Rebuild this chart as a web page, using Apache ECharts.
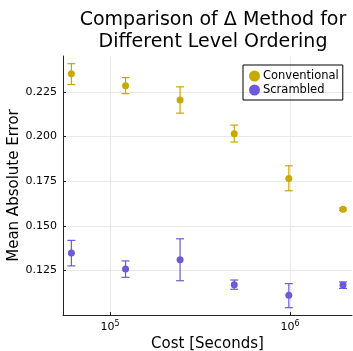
<!DOCTYPE html>
<html>
<head>
<meta charset="utf-8">
<script src="https://cdn.jsdelivr.net/npm/echarts@6/dist/echarts.min.js"></script>
<style>
html, body { margin: 0; padding: 0; background: #fff; }
#chart { width: 353px; height: 351px; }
</style>
</head>
<body>
<div id="chart"></div>
<script>
// data
var costs = [61000, 122000, 245000, 490000, 985000, 1970000];
var convMean = [0.2351, 0.2285, 0.2205, 0.2015, 0.1765, 0.1592];
var convLow = [0.2291, 0.2240, 0.2131, 0.1969, 0.1696, 0.1585];
var convHigh = [0.2408, 0.2330, 0.2278, 0.2064, 0.1836, 0.1599];
var scrMean = [0.1347, 0.1258, 0.1310, 0.1170, 0.1110, 0.1168];
var scrLow = [0.1275, 0.1211, 0.1192, 0.1144, 0.1041, 0.1149];
var scrHigh = [0.1418, 0.1303, 0.1427, 0.1196, 0.1176, 0.1185];
var xTicks = [1e5, 1e6];
var yTicks = [0.125, 0.150, 0.175, 0.200, 0.225];

var gold = '#c9a900';
var purple = '#6d5ad6';
var font = 'DejaVu Sans';

function pts(mean) {
	return costs.map(function(c, i) { return [c, mean[i]]; });
}
function bars(low, high) {
	return costs.map(function(c, i) { return [c, low[i], high[i]]; });
}

function errRender(color) {
	return function(params, api) {
		var lo = api.coord([api.value(0), api.value(1)]);
		var hi = api.coord([api.value(0), api.value(2)]);
		var w = 4;
		var st = { stroke: color, lineWidth: 1.2 };
		return {
			type: 'group',
			children: [
				{ type: 'line', shape: { x1: lo[0], y1: lo[1], x2: hi[0], y2: hi[1] }, style: st },
				{ type: 'line', shape: { x1: lo[0] - w, y1: lo[1], x2: lo[0] + w, y2: lo[1] }, style: st },
				{ type: 'line', shape: { x1: hi[0] - w, y1: hi[1], x2: hi[0] + w, y2: hi[1] }, style: st }
			]
		};
	};
}

var chart = echarts.init(document.getElementById('chart'));
chart.setOption({
	animation: false,
	textStyle: { fontFamily: font },
	title: {
		text: 'Comparison of Δ Method for\nDifferent Level Ordering',
		left: 208,
		textAlign: 'center',
		top: 4,
		textStyle: { fontFamily: font, fontSize: 19, fontWeight: 'normal', color: '#000', lineHeight: 22 }
	},
	legend: {
		data: ['Conventional', 'Scrambled'],
		orient: 'vertical',
		left: 243,
		top: 65,
		padding: [5, 4, 4, 6],
		itemGap: 2,
		itemWidth: 11,
		itemHeight: 11,
		icon: 'circle',
		borderColor: '#000',
		borderWidth: 1,
		borderRadius: 0,
		textStyle: { fontFamily: font, fontSize: 11.5, color: '#000', padding: [0, 0, 0, -2] }
	},
	grid: { left: 63, right: 1, top: 56, bottom: 36, outerBoundsMode: 'none' },
	xAxis: {
		type: 'log',
		logBase: 10,
		min: 54800,
		max: 2210000,
		name: 'Cost [Seconds]',
		nameLocation: 'middle',
		nameGap: 22,
		nameMoveOverlap: false,
		nameTextStyle: { fontFamily: font, fontSize: 15, color: '#000' },
		axisLine: { onZero: false, lineStyle: { color: '#222', width: 1 } },
		axisTick: { inside: true, length: 3, customValues: xTicks, lineStyle: { color: '#222' } },
		axisLabel: {
			customValues: xTicks,
			color: '#000',
			margin: 5,
			formatter: function(v) {
				return '10{s|' + Math.round(Math.log10(v)) + '}';
			},
			rich: {
				s: { fontSize: 8, verticalAlign: 'top', padding: [0, 0, 7, 0], color: '#000' }
			},
			fontSize: 11
		},
		splitLine: { show: true, lineStyle: { color: '#e8e8e8', width: 1 } }
	},
	yAxis: {
		type: 'value',
		min: 0.1,
		max: 0.2451,
		name: 'Mean Absolute Error',
		nameLocation: 'middle',
		nameGap: 41,
		nameMoveOverlap: false,
		nameTextStyle: { fontFamily: font, fontSize: 15, color: '#000' },
		axisLine: { show: true, lineStyle: { color: '#222', width: 1 } },
		axisTick: { show: true, inside: true, length: 3, customValues: yTicks, lineStyle: { color: '#222' } },
		axisLabel: {
			customValues: yTicks,
			color: '#000',
			fontSize: 11,
			margin: 6,
			formatter: function(v) { return v.toFixed(3); }
		},
		splitLine: { show: true, lineStyle: { color: '#e8e8e8', width: 1 } }
	},
	series: [
		{
			name: 'Conventional',
			type: 'custom',
			renderItem: errRender(gold),
			data: bars(convLow, convHigh),
			itemStyle: { color: gold },
			z: 2
		},
		{
			name: 'Scrambled',
			type: 'custom',
			renderItem: errRender(purple),
			data: bars(scrLow, scrHigh),
			itemStyle: { color: purple },
			z: 2
		},
		{
			name: 'Conventional',
			type: 'scatter',
			symbol: 'circle',
			symbolSize: 7,
			data: pts(convMean),
			itemStyle: { color: gold, opacity: 1 },
			z: 3
		},
		{
			name: 'Scrambled',
			type: 'scatter',
			symbol: 'circle',
			symbolSize: 7,
			data: pts(scrMean),
			itemStyle: { color: purple, opacity: 1 },
			z: 3
		}
	]
});
</script>
</body>
</html>
